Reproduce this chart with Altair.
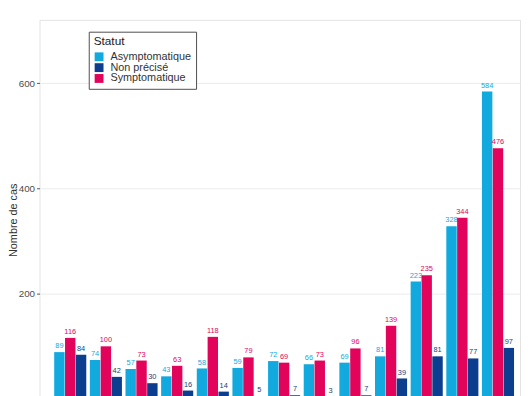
import altair as alt
import pandas as pd

groups = list(range(1, 14))
asympto = [89, 74, 57, 43, 58, 59, 72, 66, 69, 81, 223, 328, 584]
sympto = [116, 100, 73, 63, 118, 79, 69, 73, 96, 139, 235, 344, 476]
nonprec = [84, 42, 30, 16, 14, 5, 7, 3, 7, 39, 81, 77, 97]

statuts = ["Asymptomatique", "Non précisé", "Symptomatique"]
dodge_order = ["Asymptomatique", "Symptomatique", "Non précisé"]
colors = ["#12A9DF", "#0B3E8E", "#E2045A"]
label_colors = ["#12A9DF", "#1B3D7A", "#E2045A"]

rows = []
for i, g in enumerate(groups):
    rows.append({"g": g, "statut": "Asymptomatique", "n": asympto[i]})
    rows.append({"g": g, "statut": "Symptomatique", "n": sympto[i]})
    rows.append({"g": g, "statut": "Non précisé", "n": nonprec[i]})
df = pd.DataFrame(rows)

x = alt.X("g:O", axis=None,
          scale=alt.Scale(paddingInner=0.1, paddingOuter=0.29, align=0.71))
xo = alt.XOffset("statut:N", sort=dodge_order,
                 scale=alt.Scale(paddingInner=0.04, paddingOuter=0))
y = alt.Y("n:Q", title="Nombre de cas",
          scale=alt.Scale(domain=[0, 720], nice=False, zero=False),
          axis=alt.Axis(values=[200, 400, 600], domain=False, tickSize=3,
                        tickColor="#555555", labelFontSize=10, labelColor="#4d4d4d",
                        labelPadding=2, gridColor="#ebebeb", titleFontSize=11,
                        titleFontWeight="normal", titleColor="#333333",
                        titleX=-32, titleY=203, titleAngle=270, titleBaseline="top",
                        labelFont="Liberation Sans",
                        titleFont="Liberation Sans"))

bars = alt.Chart(df).mark_bar().encode(
    x=x, xOffset=xo, y=y,
    color=alt.Color("statut:N", scale=alt.Scale(domain=statuts, range=colors),
                    legend=alt.Legend(title="Statut", orient="none", legendX=50, legendY=12,
                                      strokeColor="#4d4d4d", fillColor="white",
                                      padding=5, symbolType="square", symbolSize=81,
                                      symbolStrokeWidth=0, labelFontSize=11,
                                      titleFontSize=12, titleFontWeight="normal",
                                      titleColor="#1a1a1a", labelColor="#333333",
                                      rowPadding=-1.5, labelOffset=6, titlePadding=3,
                                      labelFont="Liberation Sans",
                                      titleFont="Liberation Sans")),
)

labels = alt.Chart(df).mark_text(baseline="bottom", dy=-2, fontSize=7.5,
                                 font="Liberation Sans").encode(
    x=x, xOffset=xo, y=y,
    text="n:Q",
    color=alt.Color("statut:N", scale=alt.Scale(domain=statuts, range=label_colors),
                    legend=None),
)

chart = alt.layer(bars, labels).resolve_scale(color="independent").properties(
    width=488, height=385,
    autosize=alt.AutoSizeParams(type="none"),
    padding={"left": 32, "top": 9, "right": 2, "bottom": 0},
).configure_view(stroke="#e3e3e3", strokeWidth=1)

chart.save("out.html", embed_options={"renderer": "svg", "actions": False})
